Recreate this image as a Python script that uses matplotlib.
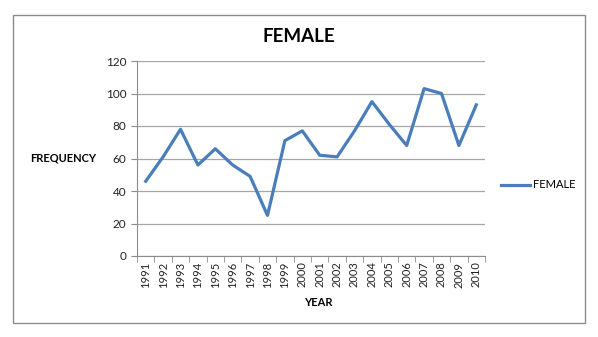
import matplotlib
matplotlib.use('Agg')
from matplotlib import pyplot as plt
from matplotlib.patches import Rectangle
import numpy as np

plt.rcParams['font.family'] = ['Lato', 'DejaVu Sans']

anos = ['1991', '1992', '1993', '1994', '1995', '1996', '1997', '1998', '1999', '2000',
        '2001', '2002', '2003', '2004', '2005', '2006', '2007', '2008', '2009', '2010']
female = [46, 61, 78, 56, 66, 56, 49, 25, 71, 77,
          62, 61, 77, 95, 81, 68, 103, 100, 68, 93]

fig = plt.figure(figsize=(5.98, 3.37), dpi=100)
ax = fig.add_axes([137/598, 1 - 256/337, (485 - 137)/598, (256 - 61)/337])

# moldura externa
fig.patches.append(Rectangle((13/598, 1 - 323/337), (585 - 13)/598, (323 - 15)/337,
                             transform=fig.transFigure, fill=False,
                             edgecolor='#8c8c8c', linewidth=1.0))

x = np.arange(len(anos))
ax.plot(x, female, color='#4A7EBB', linewidth=2.3, label='FEMALE')

ax.set_xlim(-0.5, len(anos) - 0.5)
ax.set_ylim(0, 120)
ax.set_yticks(np.arange(0, 121, 20))
ax.set_xticks(x)
ax.set_xticklabels(anos, rotation=90, fontsize=8, color='#222222')
ax.set_xticks(np.arange(-0.5, len(anos), 1), minor=True)
ax.tick_params(axis='x', which='major', length=0, pad=4)
ax.tick_params(axis='x', which='minor', length=4, color='#8c8c8c')
ax.tick_params(axis='y', length=4, color='#8c8c8c', labelsize=8.5, labelcolor='#222222')

ax.grid(True, axis='y', color='#a6a6a6', linewidth=0.9)
ax.set_axisbelow(True)
for s in ['top', 'right']:
    ax.spines[s].set_visible(False)
ax.spines['left'].set_color('#8c8c8c')
ax.spines['bottom'].set_color('#8c8c8c')

fig.text(299/598, 1 - 37/337, 'FEMALE', ha='center', va='center',
         fontsize=13.5, fontweight='bold')
fig.text(63/598, 1 - 158/337, 'FREQUENCY', ha='center', va='center',
         fontsize=8, fontweight='bold')
fig.text(318/598, 1 - 302/337, 'YEAR', ha='center', va='center',
         fontsize=8, fontweight='bold')

ax.legend(loc='center left', bbox_to_anchor=(497/598, 1 - 185/337),
          bbox_transform=fig.transFigure, frameon=False, fontsize=8,
          handlelength=2.6, handletextpad=0.2, borderaxespad=0)

fig.savefig('out.png', dpi=100)
